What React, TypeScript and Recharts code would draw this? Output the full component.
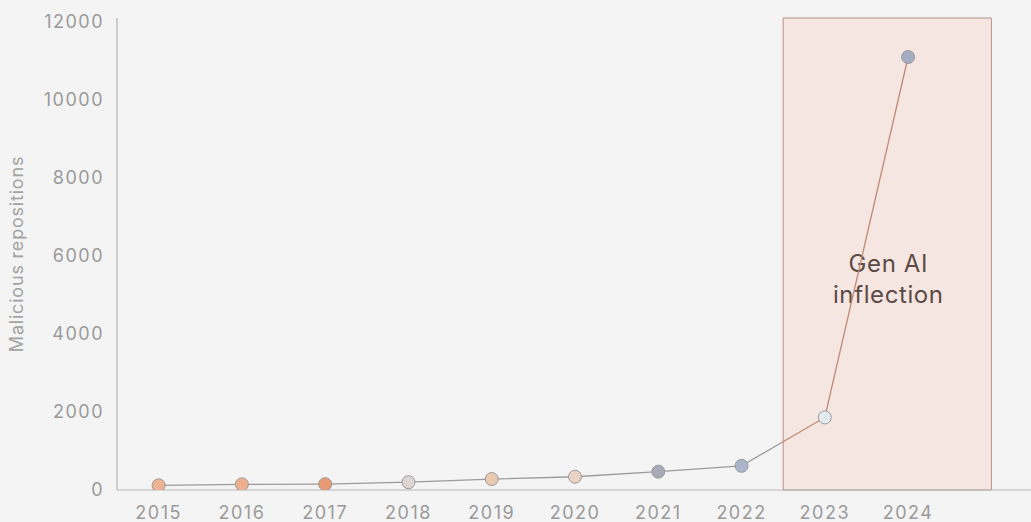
import React from 'react';
import {
  LineChart,
  Line,
  XAxis,
  YAxis,
  ReferenceArea,
  Label,
} from 'recharts';

const years = [2015, 2016, 2017, 2018, 2019, 2020, 2021, 2022, 2023, 2024];
const repoCounts = [120, 145, 150, 200, 280, 340, 470, 620, 1860, 11100];
const dotColors = [
  '#efb393', '#eeb08f', '#e99a72', '#dcd6d3', '#ecc9b3',
  '#ead2c4', '#a9aab8', '#a8b5cc', '#e3ebef', '#a4adc1',
];
const yTicks = [0, 2000, 4000, 6000, 8000, 10000, 12000];

const chartData = years.map((year, i) => ({
  year,
  count: repoCounts[i],
  color: dotColors[i],
}));

const ColoredDot = (props: any) => {
  const { cx, cy, payload } = props;
  if (cx == null || cy == null) return null;
  return (
    <circle cx={cx} cy={cy} r={6.5} fill={payload.color} stroke="#9a9a9a" strokeWidth={1} />
  );
};

export default function App() {
  const font = 'Inter, "Noto Sans", sans-serif';
  const tickStyle = { fill: '#9a9a9a', fontSize: 18, fontFamily: font, letterSpacing: 1.5 };
  return (
    <div
      style={{
        position: 'fixed',
        left: 0,
        top: 0,
        width: 1031,
        height: 522,
        background: '#f4f4f4',
        fontFamily: font,
      }}
    >
      <LineChart
        width={1031}
        height={522}
        data={chartData}
        margin={{ top: 18, right: -2, bottom: 0, left: 0 }}
      >
        <defs>
          <linearGradient id="lineColor" x1="0" y1="0" x2="1" y2="0">
            <stop offset="0.83" stopColor="#9b9b9b" />
            <stop offset="0.83" stopColor="#c08a74" />
          </linearGradient>
        </defs>
        <ReferenceArea
          x1={2022.5}
          x2={2025}
          y1={0}
          y2={12100}
          fill="#f6e6e1"
          fillOpacity={1}
          stroke="#b89184"
          strokeWidth={1}
          ifOverflow="extendDomain"
        >
          <Label
            content={(p: any) => {
              const vb = p.viewBox;
              const cx = vb.x + vb.width / 2 + 1;
              return (
                <text
                  x={cx}
                  y={272}
                  textAnchor="middle"
                  fill="#5b4a46"
                  fontSize={24}
                  letterSpacing={0.6}
                  fontFamily={font}
                >
                  <tspan x={cx} dy={0}>Gen AI</tspan>
                  <tspan x={cx} dy={31}>inflection</tspan>
                </text>
              );
            }}
          />
        </ReferenceArea>
        <XAxis
          dataKey="year"
          type="number"
          domain={[2014.5, 2025.5]}
          ticks={years}
          allowDataOverflow
          height={32}
          tickLine={false}
          tickSize={0}
          tickMargin={16}
          axisLine={{ stroke: '#b8b8b8' }}
          tick={tickStyle}
        />
        <YAxis
          domain={[0, 12100]}
          ticks={yTicks}
          allowDataOverflow
          width={117}
          tickLine={false}
          tickSize={0}
          tickMargin={13}
          axisLine={{ stroke: '#a8a8a8' }}
          tick={tickStyle}
        >
          <Label
            value="Malicious repositions"
            angle={-90}
            position="insideLeft"
            offset={17}
            style={{
              fill: '#a3a3a3',
              fontSize: 18,
              letterSpacing: 0.8,
              fontFamily: font,
              textAnchor: 'middle',
            }}
          />
        </YAxis>
        <Line
          type="linear"
          dataKey="count"
          stroke="url(#lineColor)"
          strokeWidth={1.3}
          dot={<ColoredDot />}
          activeDot={false}
          isAnimationActive={false}
        />
      </LineChart>
    </div>
  );
}
